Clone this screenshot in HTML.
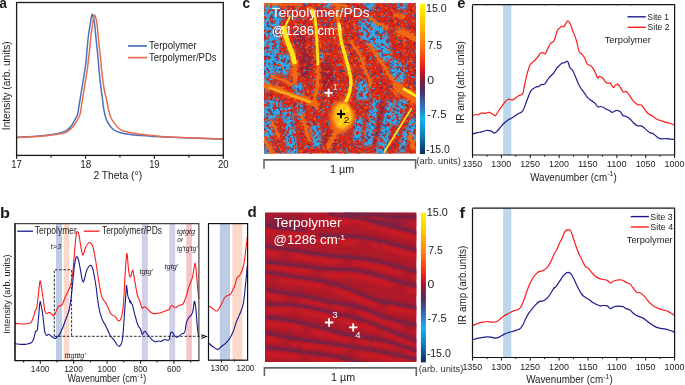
<!DOCTYPE html>
<html><head><meta charset="utf-8"><style>
html,body{margin:0;padding:0;background:#fff;}
body{width:685px;height:385px;overflow:hidden;position:relative;}
svg{position:absolute;left:0;top:0;}
svg text{font-family:'Liberation Sans',sans-serif;fill:#1a1a1a;}
svg{will-change:transform;}
</style></head><body>
<svg width="685" height="385" viewBox="0 0 685 385" xmlns="http://www.w3.org/2000/svg">
<defs>
<linearGradient id="cmap" x1="0" y1="0" x2="0" y2="1">
 <stop offset="0" stop-color="#fff500"/>
 <stop offset="0.12" stop-color="#ffc800"/>
 <stop offset="0.27" stop-color="#ff7d10"/>
 <stop offset="0.40" stop-color="#f02a18"/>
 <stop offset="0.46" stop-color="#c41228"/>
 <stop offset="0.50" stop-color="#8c1a32"/>
 <stop offset="0.58" stop-color="#4c2e62"/>
 <stop offset="0.66" stop-color="#3462aa"/>
 <stop offset="0.77" stop-color="#12b2f0"/>
 <stop offset="0.87" stop-color="#1280c0"/>
 <stop offset="1" stop-color="#0a2a5a"/>
</linearGradient>
<clipPath id="clipc"><rect x="263.9" y="3.1" width="152.1" height="150.6"/></clipPath>
<clipPath id="clipd"><rect x="265" y="212.3" width="151.6" height="149.8"/></clipPath>
<filter id="b05" x="-20%" y="-20%" width="140%" height="140%" color-interpolation-filters="sRGB"><feGaussianBlur stdDeviation="0.5"/></filter>
<filter id="b1" x="-20%" y="-20%" width="140%" height="140%" color-interpolation-filters="sRGB"><feGaussianBlur stdDeviation="0.9"/></filter>
<filter id="b2" x="-20%" y="-20%" width="140%" height="140%" color-interpolation-filters="sRGB"><feGaussianBlur stdDeviation="1.6"/></filter>
<filter id="b3" x="-30%" y="-30%" width="160%" height="160%" color-interpolation-filters="sRGB"><feGaussianBlur stdDeviation="2.6"/></filter>
<filter id="gSlate" x="0" y="0" width="100%" height="100%" color-interpolation-filters="sRGB">
 <feTurbulence type="fractalNoise" baseFrequency="0.3" numOctaves="2" seed="7" result="n"/>
 <feColorMatrix in="n" type="matrix" values="0 0 0 0 0.290  0 0 0 0 0.290  0 0 0 0 0.502  10 0 0 0 -6.2" result="c"/>
 <feGaussianBlur in="c" stdDeviation="0.5" result="cb"/>
 <feComposite in="cb" in2="SourceGraphic" operator="in"/>
</filter><filter id="gOrange" x="0" y="0" width="100%" height="100%" color-interpolation-filters="sRGB">
 <feTurbulence type="fractalNoise" baseFrequency="0.3" numOctaves="2" seed="11" result="n"/>
 <feColorMatrix in="n" type="matrix" values="0 0 0 0 0.941  0 0 0 0 0.353  0 0 0 0 0.094  0 10 0 0 -6.0" result="c"/>
 <feGaussianBlur in="c" stdDeviation="0.5" result="cb"/>
 <feComposite in="cb" in2="SourceGraphic" operator="in"/>
</filter><filter id="gDarkR" x="0" y="0" width="100%" height="100%" color-interpolation-filters="sRGB">
 <feTurbulence type="fractalNoise" baseFrequency="0.3" numOctaves="2" seed="13" result="n"/>
 <feColorMatrix in="n" type="matrix" values="0 0 0 0 0.627  0 0 0 0 0.102  0 0 0 0 0.188  0 0 10 0 -6.2" result="c"/>
 <feGaussianBlur in="c" stdDeviation="0.5" result="cb"/>
 <feComposite in="cb" in2="SourceGraphic" operator="in"/>
</filter><filter id="gBlueS" x="0" y="0" width="100%" height="100%" color-interpolation-filters="sRGB">
 <feTurbulence type="fractalNoise" baseFrequency="0.33" numOctaves="2" seed="31" result="n"/>
 <feColorMatrix in="n" type="matrix" values="0 0 0 0 0.165  0 0 0 0 0.604  0 0 0 0 0.847  0 0 10 0 -6.5" result="c"/>
 <feGaussianBlur in="c" stdDeviation="0.5" result="cb"/>
 <feComposite in="cb" in2="SourceGraphic" operator="in"/>
</filter><filter id="gDarkB" x="0" y="0" width="100%" height="100%" color-interpolation-filters="sRGB">
 <feTurbulence type="fractalNoise" baseFrequency="0.32" numOctaves="2" seed="41" result="n"/>
 <feColorMatrix in="n" type="matrix" values="0 0 0 0 0.204  0 0 0 0 0.333  0 0 0 0 0.604  10 0 0 0 -6.1" result="c"/>
 <feGaussianBlur in="c" stdDeviation="0.5" result="cb"/>
 <feComposite in="cb" in2="SourceGraphic" operator="in"/>
</filter><filter id="mBlue" x="0" y="0" width="100%" height="100%" color-interpolation-filters="sRGB">
 <feTurbulence type="fractalNoise" baseFrequency="0.3" numOctaves="2" seed="21" result="n"/>
 <feColorMatrix in="n" type="matrix" values="0 0 0 0 0  0 0 0 0 0  0 0 0 0 0  10 0 0 0 -4.0" result="m0"/>
 <feGaussianBlur in="m0" stdDeviation="0.4" result="m"/>
 <feComposite in="SourceGraphic" in2="m" operator="in"/>
</filter><filter id="mOr" x="0" y="0" width="100%" height="100%" color-interpolation-filters="sRGB">
 <feTurbulence type="fractalNoise" baseFrequency="0.3" numOctaves="2" seed="51" result="n"/>
 <feColorMatrix in="n" type="matrix" values="0 0 0 0 0  0 0 0 0 0  0 0 0 0 0  0 10 0 0 -4.6" result="m0"/>
 <feGaussianBlur in="m0" stdDeviation="0.4" result="m"/>
 <feComposite in="SourceGraphic" in2="m" operator="in"/>
</filter></defs>
<rect x="56.0" y="223.7" width="6.0" height="136.8" fill="#bccce4"/>
<rect x="63.7" y="223.7" width="5.5" height="136.8" fill="#fcd8ca"/>
<rect x="141.9" y="223.7" width="5.9" height="136.8" fill="#cfcfe8"/>
<rect x="169.3" y="223.7" width="5.9" height="136.8" fill="#cfcfe8"/>
<rect x="186.3" y="223.7" width="5.6" height="136.8" fill="#f4c3cb"/>
<rect x="219.9" y="223.7" width="10.2" height="136.8" fill="#bccce4"/>
<rect x="232.3" y="223.7" width="10.0" height="136.8" fill="#fcd8ca"/>
<text x="0.13" y="217.70" textLength="9.94" lengthAdjust="spacingAndGlyphs" style="font-size:14.00px;font-weight:bold">b</text>
<text x="247.58" y="217.20" textLength="9.21" lengthAdjust="spacingAndGlyphs" style="font-size:14.50px;font-weight:bold">d</text>
<path d="M54.3 336.3 V269.8 H71.6 V336.3" fill="none" stroke="#111" stroke-width="0.9" stroke-dasharray="2.6 1.6"/>
<line x1="54.3" y1="336.3" x2="203" y2="336.3" stroke="#111" stroke-width="0.9" stroke-dasharray="2.6 1.6"/>
<path d="M201.3 334.8 L206.3 336.6 L201.3 338.5" fill="none" stroke="#111" stroke-width="1.1"/>
<path d="M14.60 323.30 C15.33 323.37 17.28 323.58 19.00 323.70 C20.72 323.82 23.40 324.03 24.90 324.00 C26.40 323.97 26.93 323.80 28.00 323.50 C29.07 323.20 30.37 323.38 31.30 322.20 C32.23 321.02 32.90 318.43 33.60 316.40 C34.30 314.37 34.98 311.40 35.50 310.00 C36.02 308.60 36.23 310.50 36.70 308.00 C37.17 305.50 37.75 299.50 38.30 295.00 C38.85 290.50 39.47 282.17 40.00 281.00 C40.53 279.83 40.98 285.17 41.50 288.00 C42.02 290.83 42.53 294.17 43.10 298.00 C43.67 301.83 44.30 308.40 44.90 311.00 C45.50 313.60 46.03 313.37 46.70 313.60 C47.37 313.83 48.10 312.33 48.90 312.40 C49.70 312.47 50.65 313.43 51.50 314.00 C52.35 314.57 53.20 316.30 54.00 315.80 C54.80 315.30 55.55 312.57 56.30 311.00 C57.05 309.43 57.62 307.32 58.50 306.40 C59.38 305.48 60.80 306.23 61.60 305.50 C62.40 304.77 62.65 303.50 63.30 302.00 C63.95 300.50 64.72 298.28 65.50 296.50 C66.28 294.72 67.13 293.22 68.00 291.30 C68.87 289.38 69.93 287.88 70.70 285.00 C71.47 282.12 72.07 278.07 72.60 274.00 C73.13 269.93 73.48 265.40 73.90 260.60 C74.32 255.80 74.68 249.68 75.10 245.20 C75.52 240.72 76.02 236.00 76.40 233.70 C76.78 231.40 76.98 231.23 77.40 231.40 C77.82 231.57 78.42 232.72 78.90 234.70 C79.38 236.68 79.82 240.42 80.30 243.30 C80.78 246.18 81.32 250.08 81.80 252.00 C82.28 253.92 82.58 255.52 83.20 254.80 C83.82 254.08 84.70 249.58 85.50 247.70 C86.30 245.82 87.25 244.35 88.00 243.50 C88.75 242.65 89.22 242.18 90.00 242.60 C90.78 243.02 91.78 243.18 92.70 246.00 C93.62 248.82 94.58 254.22 95.50 259.50 C96.42 264.78 97.30 272.12 98.20 277.70 C99.10 283.28 100.15 289.52 100.90 293.00 C101.65 296.48 102.02 297.13 102.70 298.60 C103.38 300.07 104.38 300.90 105.00 301.80 C105.62 302.70 105.80 302.80 106.40 304.00 C107.00 305.20 107.77 307.25 108.60 309.00 C109.43 310.75 110.33 313.27 111.40 314.50 C112.47 315.73 113.80 315.33 115.00 316.40 C116.20 317.47 117.53 320.75 118.60 320.90 C119.67 321.05 120.63 319.72 121.40 317.30 C122.17 314.88 122.73 310.62 123.20 306.40 C123.67 302.18 123.90 297.00 124.20 292.00 C124.50 287.00 124.57 282.80 125.00 276.40 C125.43 270.00 126.25 255.12 126.80 253.60 C127.35 252.08 127.85 263.65 128.30 267.30 C128.75 270.95 129.08 273.98 129.50 275.50 C129.92 277.02 130.28 277.32 130.80 276.40 C131.32 275.48 132.07 270.00 132.60 270.00 C133.13 270.00 133.45 273.52 134.00 276.40 C134.55 279.28 135.28 283.97 135.90 287.30 C136.52 290.63 137.10 294.28 137.70 296.40 C138.30 298.52 139.03 298.80 139.50 300.00 C139.97 301.20 140.03 302.23 140.50 303.60 C140.97 304.97 141.62 307.68 142.30 308.20 C142.98 308.72 143.55 306.40 144.60 306.70 C145.65 307.00 147.70 309.15 148.60 310.00 C149.50 310.85 149.17 311.20 150.00 311.80 C150.83 312.40 152.38 313.35 153.60 313.60 C154.82 313.85 156.08 313.45 157.30 313.30 C158.52 313.15 159.85 313.00 160.90 312.70 C161.95 312.40 162.68 311.88 163.60 311.50 C164.52 311.12 165.48 310.72 166.40 310.40 C167.32 310.08 168.45 310.17 169.10 309.60 C169.75 309.03 169.90 307.68 170.30 307.00 C170.70 306.32 170.95 305.60 171.50 305.50 C172.05 305.40 172.93 306.02 173.60 306.40 C174.27 306.78 174.60 307.95 175.50 307.80 C176.40 307.65 177.80 306.10 179.00 305.50 C180.20 304.90 181.78 304.95 182.70 304.20 C183.62 303.45 183.88 302.45 184.50 301.00 C185.12 299.55 185.78 297.50 186.40 295.50 C187.02 293.50 187.53 291.13 188.20 289.00 C188.87 286.87 189.73 284.50 190.40 282.70 C191.07 280.90 191.67 280.15 192.20 278.20 C192.73 276.25 193.12 273.48 193.60 271.00 C194.08 268.52 194.63 263.02 195.10 263.30 C195.57 263.58 195.98 268.70 196.40 272.70 C196.82 276.70 197.18 282.92 197.60 287.30 C198.02 291.68 198.68 297.05 198.90 299.00" fill="none" stroke="#ff1a1a" stroke-width="1.1" stroke-linejoin="round"/>
<path d="M14.60 343.60 C15.33 343.70 17.28 344.07 19.00 344.20 C20.72 344.33 23.40 344.47 24.90 344.40 C26.40 344.33 26.93 344.08 28.00 343.80 C29.07 343.52 30.47 343.25 31.30 342.70 C32.13 342.15 32.55 341.28 33.00 340.50 C33.45 339.72 33.58 339.50 34.00 338.00 C34.42 336.50 34.95 332.83 35.50 331.50 C36.05 330.17 36.80 332.25 37.30 330.00 C37.80 327.75 38.05 322.63 38.50 318.00 C38.95 313.37 39.53 304.20 40.00 302.20 C40.47 300.20 40.85 303.95 41.30 306.00 C41.75 308.05 42.25 311.17 42.70 314.50 C43.15 317.83 43.63 322.97 44.00 326.00 C44.37 329.03 44.45 331.12 44.90 332.70 C45.35 334.28 46.10 335.25 46.70 335.50 C47.30 335.75 47.78 334.12 48.50 334.20 C49.22 334.28 49.93 335.28 51.00 336.00 C52.07 336.72 53.90 338.33 54.90 338.50 C55.90 338.67 56.23 337.67 57.00 337.00 C57.77 336.33 58.55 336.05 59.50 334.50 C60.45 332.95 61.55 330.50 62.70 327.70 C63.85 324.90 65.35 320.57 66.40 317.70 C67.45 314.83 68.25 313.53 69.00 310.50 C69.75 307.47 70.30 303.97 70.90 299.50 C71.50 295.03 72.10 288.58 72.60 283.70 C73.10 278.82 73.42 274.20 73.90 270.20 C74.38 266.20 74.98 261.93 75.50 259.70 C76.02 257.47 76.43 256.48 77.00 256.80 C77.57 257.12 78.27 259.03 78.90 261.60 C79.53 264.17 80.25 269.17 80.80 272.20 C81.35 275.23 81.75 278.20 82.20 279.80 C82.65 281.40 83.03 282.27 83.50 281.80 C83.97 281.33 84.52 278.73 85.00 277.00 C85.48 275.27 85.82 273.07 86.40 271.40 C86.98 269.73 87.75 268.00 88.50 267.00 C89.25 266.00 90.23 265.23 90.90 265.40 C91.57 265.57 92.05 266.85 92.50 268.00 C92.95 269.15 93.18 270.30 93.60 272.30 C94.02 274.30 94.53 277.22 95.00 280.00 C95.47 282.78 96.02 286.17 96.40 289.00 C96.78 291.83 96.85 293.73 97.30 297.00 C97.75 300.27 98.40 305.15 99.10 308.60 C99.80 312.05 100.75 315.42 101.50 317.70 C102.25 319.98 103.02 321.17 103.60 322.30 C104.18 323.43 104.32 323.22 105.00 324.50 C105.68 325.78 106.78 328.08 107.70 330.00 C108.62 331.92 109.45 334.33 110.50 336.00 C111.55 337.67 112.95 338.58 114.00 340.00 C115.05 341.42 115.93 343.43 116.80 344.50 C117.67 345.57 118.47 346.48 119.20 346.40 C119.93 346.32 120.68 345.07 121.20 344.00 C121.72 342.93 121.97 342.03 122.30 340.00 C122.63 337.97 122.82 336.50 123.20 331.80 C123.58 327.10 124.15 318.17 124.60 311.80 C125.05 305.43 125.58 297.98 125.90 293.60 C126.22 289.22 126.28 286.10 126.50 285.50 C126.72 284.90 127.00 288.42 127.20 290.00 C127.40 291.58 127.48 293.67 127.70 295.00 C127.92 296.33 128.23 297.25 128.50 298.00 C128.77 298.75 129.05 298.72 129.30 299.50 C129.55 300.28 129.78 302.45 130.00 302.70 C130.22 302.95 130.37 300.85 130.60 301.00 C130.83 301.15 131.12 303.02 131.40 303.60 C131.68 304.18 132.00 303.77 132.30 304.50 C132.60 305.23 132.90 306.78 133.20 308.00 C133.50 309.22 133.72 310.30 134.10 311.80 C134.48 313.30 135.05 315.33 135.50 317.00 C135.95 318.67 136.28 320.23 136.80 321.80 C137.32 323.37 137.98 325.20 138.60 326.40 C139.22 327.60 139.88 327.65 140.50 329.00 C141.12 330.35 141.80 333.92 142.30 334.50 C142.80 335.08 143.05 333.03 143.50 332.50 C143.95 331.97 144.50 331.22 145.00 331.30 C145.50 331.38 145.92 332.27 146.50 333.00 C147.08 333.73 147.92 334.95 148.50 335.70 C149.08 336.45 149.42 336.85 150.00 337.50 C150.58 338.15 151.15 338.88 152.00 339.60 C152.85 340.32 154.00 341.57 155.10 341.80 C156.20 342.03 157.52 341.07 158.60 341.00 C159.68 340.93 160.87 341.52 161.60 341.40 C162.33 341.28 162.55 340.62 163.00 340.30 C163.45 339.98 163.65 339.53 164.30 339.50 C164.95 339.47 166.10 340.05 166.90 340.10 C167.70 340.15 168.55 340.65 169.10 339.80 C169.65 338.95 169.92 336.20 170.20 335.00 C170.48 333.80 170.40 333.02 170.80 332.60 C171.20 332.18 172.08 332.13 172.60 332.50 C173.12 332.87 173.25 334.02 173.90 334.80 C174.55 335.58 175.62 336.98 176.50 337.20 C177.38 337.42 178.32 336.65 179.20 336.10 C180.08 335.55 181.00 334.40 181.80 333.90 C182.60 333.40 183.42 333.75 184.00 333.10 C184.58 332.45 184.90 331.73 185.30 330.00 C185.70 328.27 185.78 324.82 186.40 322.70 C187.02 320.58 188.25 318.50 189.00 317.30 C189.75 316.10 190.28 316.42 190.90 315.50 C191.52 314.58 192.22 313.55 192.70 311.80 C193.18 310.05 193.50 306.75 193.80 305.00 C194.10 303.25 194.17 300.77 194.50 301.30 C194.83 301.83 195.33 304.02 195.80 308.20 C196.27 312.38 196.82 321.55 197.30 326.40 C197.78 331.25 198.47 335.48 198.70 337.30" fill="none" stroke="#18188c" stroke-width="1.1" stroke-linejoin="round"/>
<path d="M14.6 223.7 H198.9 V360.5" fill="none" stroke="#444" stroke-width="1.2"/>
<path d="M14.9 223.2 V360.5 H199.5" fill="none" stroke="#111" stroke-width="1.25"/>
<line x1="15.2" y1="223.5" x2="15.2" y2="360.5" stroke="#111" stroke-width="0.8"/>
<line x1="23.60" y1="360.5" x2="23.60" y2="362.50" stroke="#222" stroke-width="1.1"/>
<line x1="40.30" y1="360.5" x2="40.30" y2="363.70" stroke="#222" stroke-width="1.1"/>
<line x1="57.00" y1="360.5" x2="57.00" y2="362.50" stroke="#222" stroke-width="1.1"/>
<line x1="73.70" y1="360.5" x2="73.70" y2="363.70" stroke="#222" stroke-width="1.1"/>
<line x1="90.40" y1="360.5" x2="90.40" y2="362.50" stroke="#222" stroke-width="1.1"/>
<line x1="107.10" y1="360.5" x2="107.10" y2="363.70" stroke="#222" stroke-width="1.1"/>
<line x1="123.80" y1="360.5" x2="123.80" y2="362.50" stroke="#222" stroke-width="1.1"/>
<line x1="140.50" y1="360.5" x2="140.50" y2="363.70" stroke="#222" stroke-width="1.1"/>
<line x1="157.20" y1="360.5" x2="157.20" y2="362.50" stroke="#222" stroke-width="1.1"/>
<line x1="173.90" y1="360.5" x2="173.90" y2="363.70" stroke="#222" stroke-width="1.1"/>
<line x1="190.60" y1="360.5" x2="190.60" y2="362.50" stroke="#222" stroke-width="1.1"/>
<text x="30.81" y="371.80" textLength="18.67" lengthAdjust="spacingAndGlyphs" style="font-size:9.60px">1400</text>
<text x="64.21" y="371.80" textLength="18.67" lengthAdjust="spacingAndGlyphs" style="font-size:9.60px">1200</text>
<text x="97.61" y="371.80" textLength="18.67" lengthAdjust="spacingAndGlyphs" style="font-size:9.60px">1000</text>
<text x="133.54" y="371.80" textLength="13.89" lengthAdjust="spacingAndGlyphs" style="font-size:9.60px">800</text>
<text x="166.88" y="371.80" textLength="13.95" lengthAdjust="spacingAndGlyphs" style="font-size:9.60px">600</text>
<text x="67.56" y="381.80" textLength="69.62" lengthAdjust="spacingAndGlyphs" style="font-size:10.00px">Wavenumber (cm</text>
<text x="137.62" y="377.60" textLength="5.59" lengthAdjust="spacingAndGlyphs" style="font-size:6.20px">-1</text>
<text x="143.35" y="381.80" textLength="3.01" lengthAdjust="spacingAndGlyphs" style="font-size:10.00px">)</text>
<text transform="translate(9.80 0) rotate(-90)" x="-333.83" y="0" textLength="79.40" lengthAdjust="spacingAndGlyphs" style="font-size:9.60px">Intensity (arb. units)</text>
<line x1="17.2" y1="231.2" x2="33" y2="231.2" stroke="#18188c" stroke-width="1.3"/>
<text x="34.71" y="234.00" textLength="42.13" lengthAdjust="spacingAndGlyphs" style="font-size:10.20px">Terpolymer</text>
<line x1="83.8" y1="231.2" x2="99.4" y2="231.2" stroke="#ff1a1a" stroke-width="1.3"/>
<text x="101.91" y="234.00" textLength="60.19" lengthAdjust="spacingAndGlyphs" style="font-size:10.20px">Terpolymer/PDs</text>
<text x="50.46" y="248.60" textLength="10.71" lengthAdjust="spacingAndGlyphs" style="font-size:7.90px;font-style:italic">t&gt;3</text>
<text x="64.48" y="357.90" textLength="21.22" lengthAdjust="spacingAndGlyphs" style="font-size:7.60px;font-style:italic">tttgtttg'</text>
<text x="139.47" y="273.80" textLength="13.52" lengthAdjust="spacingAndGlyphs" style="font-size:7.60px;font-style:italic">tgtg'</text>
<text x="164.57" y="268.60" textLength="13.63" lengthAdjust="spacingAndGlyphs" style="font-size:7.60px;font-style:italic">tgtg'</text>
<text x="176.97" y="233.60" textLength="18.09" lengthAdjust="spacingAndGlyphs" style="font-size:7.60px;font-style:italic">tgtgtg</text>
<text x="177.29" y="241.60" textLength="5.79" lengthAdjust="spacingAndGlyphs" style="font-size:7.60px;font-style:italic">or</text>
<text x="177.00" y="250.60" textLength="20.51" lengthAdjust="spacingAndGlyphs" style="font-size:7.60px;font-style:italic">tg'tg'tg'</text>
<path d="M208.70 305.80 C209.30 306.22 210.90 307.43 212.30 308.30 C213.70 309.17 215.72 311.42 217.10 311.00 C218.48 310.58 219.32 308.05 220.60 305.80 C221.88 303.55 223.58 299.23 224.80 297.50 C226.02 295.77 226.97 295.92 227.90 295.40 C228.83 294.88 229.53 295.43 230.40 294.40 C231.27 293.37 232.32 290.77 233.10 289.20 C233.88 287.63 234.48 286.83 235.10 285.00 C235.72 283.17 236.07 279.78 236.80 278.20 C237.53 276.62 238.58 276.87 239.50 275.50 C240.42 274.13 241.53 272.13 242.30 270.00 C243.07 267.87 243.50 266.18 244.10 262.70 C244.70 259.22 245.35 253.48 245.90 249.10 C246.45 244.72 247.15 238.52 247.40 236.40" fill="none" stroke="#ff1a1a" stroke-width="1.1"/>
<path d="M208.70 343.20 C209.47 343.83 211.77 345.97 213.30 347.00 C214.83 348.03 216.52 349.52 217.90 349.40 C219.28 349.28 220.28 347.33 221.60 346.30 C222.92 345.27 224.40 344.58 225.80 343.20 C227.20 341.82 228.78 339.90 230.00 338.00 C231.22 336.10 232.07 334.40 233.10 331.80 C234.13 329.20 235.17 325.18 236.20 322.40 C237.23 319.62 238.30 317.52 239.30 315.10 C240.30 312.68 241.43 310.42 242.20 307.90 C242.97 305.38 243.35 303.82 243.90 300.00 C244.45 296.18 245.05 289.33 245.50 285.00 C245.95 280.67 246.32 277.17 246.60 274.00 C246.88 270.83 247.10 267.33 247.20 266.00" fill="none" stroke="#18188c" stroke-width="1.1"/>
<rect x="208.5" y="223.6" width="39.1" height="136.6" fill="none" stroke="#111" stroke-width="1.2"/>
<line x1="221.50" y1="359.6" x2="221.50" y2="362.60" stroke="#222" stroke-width="1.1"/>
<line x1="234.55" y1="359.6" x2="234.55" y2="361.40" stroke="#222" stroke-width="1.1"/>
<text x="210.38" y="371.10" textLength="18.25" lengthAdjust="spacingAndGlyphs" style="font-size:9.60px">1300</text>
<text x="236.49" y="371.10" textLength="17.82" lengthAdjust="spacingAndGlyphs" style="font-size:9.60px">1200</text>
<text x="-0.38" y="7.70" textLength="7.30" lengthAdjust="spacingAndGlyphs" style="font-size:14.50px;font-weight:bold">a</text>
<path d="M16.60 137.30 C18.17 137.22 22.70 136.98 26.00 136.80 C29.30 136.62 32.97 136.45 36.40 136.20 C39.83 135.95 43.18 135.70 46.60 135.30 C50.02 134.90 54.52 134.25 56.90 133.80 C59.28 133.35 59.20 133.22 60.90 132.60 C62.60 131.98 65.22 131.42 67.10 130.10 C68.98 128.78 70.85 126.53 72.20 124.70 C73.55 122.87 74.35 120.72 75.20 119.10 C76.05 117.48 76.75 116.68 77.30 115.00 C77.85 113.32 77.78 113.17 78.50 109.00 C79.22 104.83 80.53 96.50 81.60 90.00 C82.67 83.50 84.13 75.00 84.90 70.00 C85.67 65.00 85.83 63.50 86.20 60.00 C86.57 56.50 86.73 53.00 87.10 49.00 C87.47 45.00 87.85 40.33 88.40 36.00 C88.95 31.67 89.87 26.33 90.40 23.00 C90.93 19.67 91.28 17.47 91.60 16.00 C91.92 14.53 92.05 14.20 92.30 14.20 C92.55 14.20 92.73 14.53 93.10 16.00 C93.47 17.47 94.05 19.67 94.50 23.00 C94.95 26.33 95.37 31.67 95.80 36.00 C96.23 40.33 96.70 45.00 97.10 49.00 C97.50 53.00 97.88 56.50 98.20 60.00 C98.52 63.50 98.50 65.00 99.00 70.00 C99.50 75.00 100.60 85.00 101.20 90.00 C101.80 95.00 102.17 96.78 102.60 100.00 C103.03 103.22 103.22 106.18 103.80 109.30 C104.38 112.42 105.23 116.17 106.10 118.70 C106.97 121.23 107.73 122.65 109.00 124.50 C110.27 126.35 111.75 128.43 113.70 129.80 C115.65 131.17 117.98 131.92 120.70 132.70 C123.42 133.48 126.50 134.02 130.00 134.50 C133.50 134.98 137.80 135.28 141.70 135.60 C145.60 135.92 149.52 136.15 153.40 136.40 C157.28 136.65 158.90 136.83 165.00 137.10 C171.10 137.37 180.33 137.63 190.00 138.00 C199.67 138.37 217.50 139.08 223.00 139.30" fill="none" stroke="#4a72bc" stroke-width="1.5" stroke-linejoin="round"/>
<path d="M16.60 137.70 C18.17 137.60 22.70 137.30 26.00 137.10 C29.30 136.90 32.97 136.73 36.40 136.50 C39.83 136.27 43.18 136.08 46.60 135.70 C50.02 135.32 53.83 134.67 56.90 134.20 C59.97 133.73 62.80 133.72 65.00 132.90 C67.20 132.08 68.57 130.58 70.10 129.30 C71.63 128.02 73.00 126.73 74.20 125.20 C75.40 123.67 76.37 121.80 77.30 120.10 C78.23 118.40 79.18 116.85 79.80 115.00 C80.42 113.15 80.30 113.17 81.00 109.00 C81.70 104.83 82.97 96.50 84.00 90.00 C85.03 83.50 86.47 75.00 87.20 70.00 C87.93 65.00 87.98 63.50 88.40 60.00 C88.82 56.50 89.27 53.00 89.70 49.00 C90.13 45.00 90.50 40.33 91.00 36.00 C91.50 31.67 92.23 26.25 92.70 23.00 C93.17 19.75 93.50 17.85 93.80 16.50 C94.10 15.15 94.25 14.90 94.50 14.90 C94.75 14.90 94.90 15.15 95.30 16.50 C95.70 17.85 96.42 19.75 96.90 23.00 C97.38 26.25 97.77 31.67 98.20 36.00 C98.63 40.33 99.07 45.00 99.50 49.00 C99.93 53.00 100.45 56.50 100.80 60.00 C101.15 63.50 101.02 65.00 101.60 70.00 C102.18 75.00 103.45 85.00 104.30 90.00 C105.15 95.00 106.02 96.78 106.70 100.00 C107.38 103.22 107.72 106.38 108.40 109.30 C109.08 112.22 109.92 115.35 110.80 117.50 C111.68 119.65 112.43 120.45 113.70 122.20 C114.97 123.95 116.65 126.48 118.40 128.00 C120.15 129.52 121.87 130.48 124.20 131.30 C126.53 132.12 129.48 132.37 132.40 132.90 C135.32 133.43 138.20 134.05 141.70 134.50 C145.20 134.95 149.52 135.22 153.40 135.60 C157.28 135.98 158.90 136.43 165.00 136.80 C171.10 137.17 180.33 137.43 190.00 137.80 C199.67 138.17 217.50 138.80 223.00 139.00" fill="none" stroke="#e96a4c" stroke-width="1.5" stroke-linejoin="round"/>
<rect x="16.6" y="2.5" width="206.7" height="152.9" fill="none" stroke="#1a1a1a" stroke-width="1.3"/>
<line x1="16.60" y1="155.4" x2="16.60" y2="158.70" stroke="#1a1a1a" stroke-width="1.2"/>
<line x1="51.05" y1="155.4" x2="51.05" y2="157.50" stroke="#1a1a1a" stroke-width="1.2"/>
<line x1="85.50" y1="155.4" x2="85.50" y2="158.70" stroke="#1a1a1a" stroke-width="1.2"/>
<line x1="119.95" y1="155.4" x2="119.95" y2="157.50" stroke="#1a1a1a" stroke-width="1.2"/>
<line x1="154.40" y1="155.4" x2="154.40" y2="158.70" stroke="#1a1a1a" stroke-width="1.2"/>
<line x1="188.85" y1="155.4" x2="188.85" y2="157.50" stroke="#1a1a1a" stroke-width="1.2"/>
<line x1="223.30" y1="155.4" x2="223.30" y2="158.70" stroke="#1a1a1a" stroke-width="1.2"/>
<text x="11.27" y="168.00" textLength="10.61" lengthAdjust="spacingAndGlyphs" style="font-size:10.00px">17</text>
<text x="80.24" y="168.00" textLength="11.09" lengthAdjust="spacingAndGlyphs" style="font-size:10.00px">18</text>
<text x="149.19" y="168.00" textLength="10.35" lengthAdjust="spacingAndGlyphs" style="font-size:10.00px">19</text>
<text x="217.92" y="168.00" textLength="10.66" lengthAdjust="spacingAndGlyphs" style="font-size:10.00px">20</text>
<text x="93.38" y="179.00" textLength="48.76" lengthAdjust="spacingAndGlyphs" style="font-size:10.70px">2 Theta (°)</text>
<text transform="translate(9.70 0) rotate(-90)" x="-130.13" y="0" textLength="88.76" lengthAdjust="spacingAndGlyphs" style="font-size:10.50px">Intensity (arb. units)</text>
<line x1="128" y1="46" x2="147" y2="46" stroke="#4a72bc" stroke-width="1.7"/>
<line x1="128" y1="57.6" x2="147" y2="57.6" stroke="#e96a4c" stroke-width="1.7"/>
<text x="148.99" y="49.00" textLength="47.67" lengthAdjust="spacingAndGlyphs" style="font-size:10.20px">Terpolymer</text>
<text x="148.99" y="60.80" textLength="67.55" lengthAdjust="spacingAndGlyphs" style="font-size:10.20px">Terpolymer/PDs</text>
<g clip-path="url(#clipc)">
<rect x="263.9" y="3.1" width="152.1" height="150.6" fill="#d82818"/>
<rect x="263.9" y="3.1" width="152.1" height="150.6" fill="#000" filter="url(#gOrange)"/>
<rect x="263.9" y="3.1" width="152.1" height="150.6" fill="#000" filter="url(#gDarkR)"/>
<rect x="263.9" y="3.1" width="152.1" height="150.6" fill="#000" filter="url(#gSlate)"/>
<rect x="263.9" y="3.1" width="152.1" height="150.6" fill="#000" filter="url(#gBlueS)"/>
<g filter="url(#mBlue)"><g filter="url(#b2)" fill="#8a1c3a" opacity="0.75">
<ellipse cx="305" cy="62" rx="7" ry="16"/>
<ellipse cx="326" cy="75" rx="7" ry="14"/>
<ellipse cx="300" cy="40" rx="5" ry="8"/>
<ellipse cx="380" cy="120" rx="8" ry="20"/>
<ellipse cx="395" cy="70" rx="6" ry="10"/>
<ellipse cx="330" cy="140" rx="8" ry="8"/>
<ellipse cx="275" cy="60" rx="6" ry="10"/>
</g></g>
<g filter="url(#mBlue)"><g filter="url(#b1)">
<path d="M263.00 2.00 L278.00 2.00 L281.00 18.00 L280.00 45.00 L276.00 70.00 L271.00 88.00 L263.00 92.00 Z" fill="#2eaaea"/>
<path d="M270.00 54.00 L289.00 54.00 L291.00 66.00 L287.00 76.00 L272.00 72.00 Z" fill="#2eaaea"/>
<path d="M264.00 100.00 L281.00 100.00 L282.00 116.00 L268.00 121.00 L263.00 119.00 Z" fill="#2eaaea"/>
<path d="M358.00 20.00 L372.00 18.00 L386.00 28.00 L390.00 44.00 L392.00 60.00 L380.00 62.00 L372.00 50.00 L360.00 38.00 Z" fill="#2eaaea"/>
<path d="M292.00 84.00 L302.00 83.00 L304.00 95.00 L294.00 96.00 Z" fill="#2eaaea"/>
<path d="M390.00 58.00 L400.00 60.00 L405.00 72.00 L404.00 84.00 L396.00 84.00 L390.00 72.00 Z" fill="#2eaaea"/>
<path d="M356.00 80.00 L366.00 80.00 L371.00 96.00 L368.00 100.00 L357.00 100.00 Z" fill="#2eaaea"/>
<path d="M318.00 53.00 L324.00 53.00 L324.00 60.00 L318.00 60.00 Z" fill="#2eaaea"/>
<path d="M371.00 99.00 L380.00 99.00 L372.00 146.00 L363.00 146.00 Z" fill="#2eaaea"/>
<path d="M387.00 100.00 L396.00 100.00 L386.00 155.00 L375.00 155.00 Z" fill="#2eaaea"/>
<path d="M399.00 99.00 L408.00 99.00 L399.00 125.00 L390.00 125.00 Z" fill="#2eaaea"/>
<path d="M282.00 108.00 L292.00 106.00 L298.00 154.00 L287.00 154.00 Z" fill="#2eaaea"/>
<path d="M296.00 104.00 L302.00 104.00 L304.00 118.00 L298.00 120.00 Z" fill="#2eaaea"/>
<path d="M364.00 2.00 L376.00 2.00 L373.00 11.00 L364.00 11.00 Z" fill="#2eaaea"/>
<path d="M397.00 2.00 L408.00 2.00 L406.00 10.00 L397.00 10.00 Z" fill="#2eaaea"/>
<path d="M264.00 122.00 L274.00 120.00 L273.00 140.00 L264.00 142.00 Z" fill="#2eaaea"/>
<path d="M407.00 122.00 L416.00 116.00 L416.00 142.00 L410.00 140.00 Z" fill="#2eaaea"/>
<path d="M264.00 146.00 L272.00 144.00 L271.00 154.00 L263.00 154.00 Z" fill="#2eaaea"/>
<path d="M355.00 118.00 L363.00 116.00 L361.00 142.00 L353.00 142.00 Z" fill="#2eaaea"/>
<path d="M311.00 125.00 L319.00 123.00 L322.00 146.00 L313.00 148.00 Z" fill="#2eaaea"/>
<path d="M403.00 130.00 L410.00 128.00 L404.00 154.00 L397.00 154.00 Z" fill="#2eaaea"/>
<path d="M325.00 2.00 L333.00 2.00 L332.00 8.00 L325.00 8.00 Z" fill="#2eaaea"/>
</g></g>
<g filter="url(#gDarkB)">
<path d="M263.00 2.00 L278.00 2.00 L281.00 18.00 L280.00 45.00 L276.00 70.00 L271.00 88.00 L263.00 92.00 Z" fill="#000"/>
<path d="M270.00 54.00 L289.00 54.00 L291.00 66.00 L287.00 76.00 L272.00 72.00 Z" fill="#000"/>
<path d="M264.00 100.00 L281.00 100.00 L282.00 116.00 L268.00 121.00 L263.00 119.00 Z" fill="#000"/>
<path d="M358.00 20.00 L372.00 18.00 L386.00 28.00 L390.00 44.00 L392.00 60.00 L380.00 62.00 L372.00 50.00 L360.00 38.00 Z" fill="#000"/>
<path d="M292.00 84.00 L302.00 83.00 L304.00 95.00 L294.00 96.00 Z" fill="#000"/>
<path d="M390.00 58.00 L400.00 60.00 L405.00 72.00 L404.00 84.00 L396.00 84.00 L390.00 72.00 Z" fill="#000"/>
<path d="M356.00 80.00 L366.00 80.00 L371.00 96.00 L368.00 100.00 L357.00 100.00 Z" fill="#000"/>
<path d="M318.00 53.00 L324.00 53.00 L324.00 60.00 L318.00 60.00 Z" fill="#000"/>
<path d="M371.00 99.00 L380.00 99.00 L372.00 146.00 L363.00 146.00 Z" fill="#000"/>
<path d="M387.00 100.00 L396.00 100.00 L386.00 155.00 L375.00 155.00 Z" fill="#000"/>
<path d="M399.00 99.00 L408.00 99.00 L399.00 125.00 L390.00 125.00 Z" fill="#000"/>
<path d="M282.00 108.00 L292.00 106.00 L298.00 154.00 L287.00 154.00 Z" fill="#000"/>
<path d="M296.00 104.00 L302.00 104.00 L304.00 118.00 L298.00 120.00 Z" fill="#000"/>
<path d="M364.00 2.00 L376.00 2.00 L373.00 11.00 L364.00 11.00 Z" fill="#000"/>
<path d="M397.00 2.00 L408.00 2.00 L406.00 10.00 L397.00 10.00 Z" fill="#000"/>
<path d="M264.00 122.00 L274.00 120.00 L273.00 140.00 L264.00 142.00 Z" fill="#000"/>
<path d="M407.00 122.00 L416.00 116.00 L416.00 142.00 L410.00 140.00 Z" fill="#000"/>
<path d="M264.00 146.00 L272.00 144.00 L271.00 154.00 L263.00 154.00 Z" fill="#000"/>
<path d="M355.00 118.00 L363.00 116.00 L361.00 142.00 L353.00 142.00 Z" fill="#000"/>
<path d="M311.00 125.00 L319.00 123.00 L322.00 146.00 L313.00 148.00 Z" fill="#000"/>
<path d="M403.00 130.00 L410.00 128.00 L404.00 154.00 L397.00 154.00 Z" fill="#000"/>
<path d="M325.00 2.00 L333.00 2.00 L332.00 8.00 L325.00 8.00 Z" fill="#000"/>
</g>
<g filter="url(#mOr)"><g filter="url(#b1)" fill="none" stroke-linecap="round" stroke-linejoin="round">
<path d="M264.00 86.00 C266.33 86.50 273.33 87.50 278.00 89.00 C282.67 90.50 287.33 93.17 292.00 95.00 C296.67 96.83 302.00 98.50 306.00 100.00 C310.00 101.50 314.33 103.33 316.00 104.00" stroke="#f06a14" stroke-width="8.5"/>
<path d="M272.00 76.00 C273.67 76.67 278.83 78.67 282.00 80.00 C285.17 81.33 289.50 83.33 291.00 84.00" stroke="#f06a14" stroke-width="5.0"/>
<path d="M282.50 30.80 C283.25 32.67 285.33 38.13 287.00 42.00 C288.67 45.87 291.25 50.17 292.50 54.00 C293.75 57.83 294.08 60.50 294.50 65.00 C294.92 69.50 294.92 78.33 295.00 81.00" stroke="#f06a14" stroke-width="8.5"/>
<path d="M311.00 8.00 C311.67 9.67 314.08 13.50 315.00 18.00 C315.92 22.50 316.08 29.00 316.50 35.00 C316.92 41.00 317.25 48.17 317.50 54.00 C317.75 59.83 318.08 64.17 318.00 70.00 C317.92 75.83 317.67 84.00 317.00 89.00 C316.33 94.00 314.50 98.17 314.00 100.00" stroke="#f06a14" stroke-width="6.5"/>
<path d="M336.50 2.00 C336.75 5.00 337.25 13.67 338.00 20.00 C338.75 26.33 339.83 34.17 341.00 40.00 C342.17 45.83 343.67 50.00 345.00 55.00 C346.33 60.00 348.00 65.50 349.00 70.00 C350.00 74.50 351.00 78.00 351.00 82.00 C351.00 86.00 350.00 90.33 349.00 94.00 C348.00 97.67 345.67 102.33 345.00 104.00" stroke="#f06a14" stroke-width="7.0"/>
<path d="M351.20 42.50 C352.60 44.58 357.17 50.15 359.60 55.00 C362.03 59.85 364.23 67.80 365.80 71.60 C367.37 75.40 368.30 75.40 369.00 77.80 C369.70 80.20 369.83 84.63 370.00 86.00" stroke="#f06a14" stroke-width="5.5"/>
<path d="M370.00 44.60 C371.03 46.33 373.78 51.20 376.20 55.00 C378.62 58.80 382.08 63.60 384.50 67.40 C386.92 71.20 388.28 74.87 390.70 77.80 C393.12 80.73 397.62 83.80 399.00 85.00" stroke="#f06a14" stroke-width="5.5"/>
<path d="M370.60 19.00 C373.25 20.50 383.85 26.50 386.50 28.00" stroke="#f06a14" stroke-width="4.5"/>
<path d="M400.00 32.00 C401.67 32.67 407.17 34.67 410.00 36.00 C412.83 37.33 415.83 39.33 417.00 40.00" stroke="#f06a14" stroke-width="10.5"/>
<path d="M395.00 15.00 C396.50 15.33 402.50 16.67 404.00 17.00" stroke="#f06a14" stroke-width="5.5"/>
<path d="M272.00 122.00 C272.67 123.33 274.83 127.50 276.00 130.00 C277.17 132.50 278.50 135.83 279.00 137.00" stroke="#f06a14" stroke-width="5.5"/>
<path d="M302.00 116.00 C302.67 118.00 304.83 124.00 306.00 128.00 C307.17 132.00 308.50 138.00 309.00 140.00" stroke="#f06a14" stroke-width="6.5"/>
<path d="M264.00 140.00 C265.00 141.33 268.67 145.67 270.00 148.00 C271.33 150.33 271.67 153.00 272.00 154.00" stroke="#f06a14" stroke-width="6.5"/>
<path d="M338.00 128.00 C337.17 129.67 334.67 134.67 333.00 138.00 C331.33 141.33 328.83 146.33 328.00 148.00" stroke="#f06a14" stroke-width="7.5"/>
<path d="M313.00 103.00 C313.67 103.83 316.33 107.17 317.00 108.00" stroke="#f06a14" stroke-width="6.5"/>
<path d="M398.00 88.00 C399.67 89.00 404.83 92.00 408.00 94.00 C411.17 96.00 415.50 99.00 417.00 100.00" stroke="#f06a14" stroke-width="15.5"/>
<path d="M410.00 136.00 C410.67 138.00 413.33 146.00 414.00 148.00" stroke="#f06a14" stroke-width="6.5"/>
<path d="M334.00 4.00 C336.17 4.33 344.83 5.67 347.00 6.00" stroke="#f06a14" stroke-width="5.5"/>
<path d="M264.00 4.00 C270.00 4.17 294.00 4.83 300.00 5.00" stroke="#f06a14" stroke-width="4.0"/>
</g></g>
<path d="M332.00 106.00 C333.00 105.17 336.00 101.83 338.00 101.00 C340.00 100.17 342.17 100.50 344.00 101.00 C345.83 101.50 347.50 102.50 349.00 104.00 C350.50 105.50 351.83 107.83 353.00 110.00 C354.17 112.17 356.00 114.67 356.00 117.00 C356.00 119.33 354.33 121.83 353.00 124.00 C351.67 126.17 350.00 128.33 348.00 130.00 C346.00 131.67 343.33 133.83 341.00 134.00 C338.67 134.17 335.83 133.00 334.00 131.00 C332.17 129.00 330.67 125.17 330.00 122.00 C329.33 118.83 330.00 113.67 330.00 112.00 Z" fill="#f06a14" filter="url(#b1)"/>
<g filter="url(#b05)" fill="none" stroke-linecap="round" stroke-linejoin="round">
<path d="M264.00 86.00 C266.33 86.50 273.33 87.50 278.00 89.00 C282.67 90.50 287.33 93.17 292.00 95.00 C296.67 96.83 302.00 98.50 306.00 100.00 C310.00 101.50 314.33 103.33 316.00 104.00" stroke="#f06a14" stroke-width="4.2"/>
<path d="M272.00 76.00 C273.67 76.67 278.83 78.67 282.00 80.00 C285.17 81.33 289.50 83.33 291.00 84.00" stroke="#f06a14" stroke-width="2.1"/>
<path d="M282.50 30.80 C283.25 32.67 285.33 38.13 287.00 42.00 C288.67 45.87 291.25 50.17 292.50 54.00 C293.75 57.83 294.08 60.50 294.50 65.00 C294.92 69.50 294.92 78.33 295.00 81.00" stroke="#f06a14" stroke-width="4.2"/>
<path d="M311.00 8.00 C311.67 9.67 314.08 13.50 315.00 18.00 C315.92 22.50 316.08 29.00 316.50 35.00 C316.92 41.00 317.25 48.17 317.50 54.00 C317.75 59.83 318.08 64.17 318.00 70.00 C317.92 75.83 317.67 84.00 317.00 89.00 C316.33 94.00 314.50 98.17 314.00 100.00" stroke="#f06a14" stroke-width="3.0"/>
<path d="M336.50 2.00 C336.75 5.00 337.25 13.67 338.00 20.00 C338.75 26.33 339.83 34.17 341.00 40.00 C342.17 45.83 343.67 50.00 345.00 55.00 C346.33 60.00 348.00 65.50 349.00 70.00 C350.00 74.50 351.00 78.00 351.00 82.00 C351.00 86.00 350.00 90.33 349.00 94.00 C348.00 97.67 345.67 102.33 345.00 104.00" stroke="#f06a14" stroke-width="3.3"/>
<path d="M351.20 42.50 C352.60 44.58 357.17 50.15 359.60 55.00 C362.03 59.85 364.23 67.80 365.80 71.60 C367.37 75.40 368.30 75.40 369.00 77.80 C369.70 80.20 369.83 84.63 370.00 86.00" stroke="#f06a14" stroke-width="2.4"/>
<path d="M370.00 44.60 C371.03 46.33 373.78 51.20 376.20 55.00 C378.62 58.80 382.08 63.60 384.50 67.40 C386.92 71.20 388.28 74.87 390.70 77.80 C393.12 80.73 397.62 83.80 399.00 85.00" stroke="#f06a14" stroke-width="2.4"/>
<path d="M370.60 19.00 C373.25 20.50 383.85 26.50 386.50 28.00" stroke="#f06a14" stroke-width="1.8"/>
<path d="M400.00 32.00 C401.67 32.67 407.17 34.67 410.00 36.00 C412.83 37.33 415.83 39.33 417.00 40.00" stroke="#f06a14" stroke-width="5.4"/>
<path d="M395.00 15.00 C396.50 15.33 402.50 16.67 404.00 17.00" stroke="#f06a14" stroke-width="2.4"/>
<path d="M272.00 122.00 C272.67 123.33 274.83 127.50 276.00 130.00 C277.17 132.50 278.50 135.83 279.00 137.00" stroke="#f06a14" stroke-width="2.4"/>
<path d="M302.00 116.00 C302.67 118.00 304.83 124.00 306.00 128.00 C307.17 132.00 308.50 138.00 309.00 140.00" stroke="#f06a14" stroke-width="3.0"/>
<path d="M264.00 140.00 C265.00 141.33 268.67 145.67 270.00 148.00 C271.33 150.33 271.67 153.00 272.00 154.00" stroke="#f06a14" stroke-width="3.0"/>
<path d="M338.00 128.00 C337.17 129.67 334.67 134.67 333.00 138.00 C331.33 141.33 328.83 146.33 328.00 148.00" stroke="#f06a14" stroke-width="3.6"/>
<path d="M313.00 103.00 C313.67 103.83 316.33 107.17 317.00 108.00" stroke="#f06a14" stroke-width="3.0"/>
<path d="M398.00 88.00 C399.67 89.00 404.83 92.00 408.00 94.00 C411.17 96.00 415.50 99.00 417.00 100.00" stroke="#f06a14" stroke-width="8.4"/>
<path d="M410.00 136.00 C410.67 138.00 413.33 146.00 414.00 148.00" stroke="#f06a14" stroke-width="3.0"/>
<path d="M334.00 4.00 C336.17 4.33 344.83 5.67 347.00 6.00" stroke="#f06a14" stroke-width="2.4"/>
<path d="M264.00 4.00 C270.00 4.17 294.00 4.83 300.00 5.00" stroke="#f06a14" stroke-width="1.5"/>
</g>
<path d="M270.00 88.00 C273.33 89.17 283.33 92.67 290.00 95.00 C296.67 97.33 306.67 100.83 310.00 102.00" fill="none" stroke="#ffa81a" stroke-width="2.6" stroke-linecap="round" filter="url(#b05)"/>
<g filter="url(#b05)" fill="none" stroke="#ffe81a" stroke-linecap="round" stroke-linejoin="round">
<path d="M289.80 16.90 C289.17 18.25 287.10 22.23 286.00 25.00 C284.90 27.77 283.67 32.08 283.20 33.50" stroke-width="2.0"/>
<path d="M284.00 28.00 C284.50 30.00 285.67 35.83 287.00 40.00 C288.33 44.17 290.75 49.33 292.00 53.00 C293.25 56.67 294.08 60.50 294.50 62.00" stroke-width="4.8"/>
<path d="M312.00 10.00 C312.50 11.33 314.25 13.83 315.00 18.00 C315.75 22.17 316.08 29.00 316.50 35.00 C316.92 41.00 317.25 49.17 317.50 54.00 C317.75 58.83 317.92 62.33 318.00 64.00" stroke-width="2.6"/>
<path d="M339.00 24.00 C339.33 26.67 340.00 34.83 341.00 40.00 C342.00 45.17 343.67 50.00 345.00 55.00 C346.33 60.00 348.00 65.50 349.00 70.00 C350.00 74.50 351.00 78.00 351.00 82.00 C351.00 86.00 349.83 90.83 349.00 94.00 C348.17 97.17 346.50 99.83 346.00 101.00" stroke-width="3.2"/>
<path d="M411.30 108.80 C409.08 112.33 402.50 122.80 398.00 130.00 C393.50 137.20 386.58 148.33 384.30 152.00" stroke-width="1.8"/>
<path d="M404.00 89.00 C406.00 90.17 414.00 94.83 416.00 96.00" stroke-width="3.0"/>
</g>
<path d="M335.00 107.00 C336.00 106.33 339.00 103.50 341.00 103.00 C343.00 102.50 345.33 102.83 347.00 104.00 C348.67 105.17 350.00 107.83 351.00 110.00 C352.00 112.17 353.17 114.67 353.00 117.00 C352.83 119.33 351.50 122.00 350.00 124.00 C348.50 126.00 346.17 128.50 344.00 129.00 C341.83 129.50 338.83 128.83 337.00 127.00 C335.17 125.17 333.67 119.50 333.00 118.00 Z" fill="#ffb818" filter="url(#b1)"/>
<g filter="url(#mOr)"><path d="M337.00 108.00 C338.00 107.50 341.17 105.33 343.00 105.00 C344.83 104.67 346.83 104.67 348.00 106.00 C349.17 107.33 349.67 110.50 350.00 113.00 C350.33 115.50 350.83 118.83 350.00 121.00 C349.17 123.17 347.00 125.50 345.00 126.00 C343.00 126.50 339.50 125.67 338.00 124.00 C336.50 122.33 336.33 117.33 336.00 116.00 Z" fill="#ffe81a" filter="url(#b05)"/></g>
</g>
<text x="271.80" y="16.80" textLength="97.79" lengthAdjust="spacingAndGlyphs" style="font-size:13.20px;fill:#fff">Terpolymer/PDs</text>
<text x="271.68" y="34.80" textLength="63.18" lengthAdjust="spacingAndGlyphs" style="font-size:13.20px;fill:#fff">@1286 cm</text>
<text x="334.81" y="29.60" textLength="7.82" lengthAdjust="spacingAndGlyphs" style="font-size:7.60px;fill:#fff">-1</text>
<path d="M324.4 92.9 H332.8 M328.6 88.7 V97.1" stroke="#fff" stroke-width="1.9"/>
<text x="333.00" y="90.00" textLength="4.39" lengthAdjust="spacingAndGlyphs" style="font-size:9.60px;fill:#fff">1</text>
<path d="M336.8 114.0 H345.2 M341.0 109.8 V118.2" stroke="#000" stroke-width="1.9"/>
<text x="343.69" y="123.30" textLength="5.62" lengthAdjust="spacingAndGlyphs" style="font-size:9.60px;fill:#000">2</text>
<rect x="419.9" y="3.7" width="5.1" height="150.3" fill="url(#cmap)"/>
<text x="425.99" y="11.50" textLength="20.73" lengthAdjust="spacingAndGlyphs" style="font-size:10.80px;fill:#1a1a1a">15.0</text>
<text x="427.46" y="49.10" textLength="14.58" lengthAdjust="spacingAndGlyphs" style="font-size:10.80px;fill:#1a1a1a">7.5</text>
<text x="427.22" y="83.60" textLength="6.86" lengthAdjust="spacingAndGlyphs" style="font-size:10.80px;fill:#1a1a1a">0</text>
<text x="427.00" y="117.70" textLength="19.48" lengthAdjust="spacingAndGlyphs" style="font-size:10.80px;fill:#1a1a1a">-7.5</text>
<text x="425.94" y="153.20" textLength="23.77" lengthAdjust="spacingAndGlyphs" style="font-size:10.80px;fill:#1a1a1a">-15.0</text>
<text x="416.42" y="163.80" textLength="44.35" lengthAdjust="spacingAndGlyphs" style="font-size:9.60px;fill:#333">(arb. units)</text>
<path d="M264 168.8 V159.9 H415.6 V168.8" fill="none" stroke="#666" stroke-width="1.6"/>
<text x="330.08" y="172.70" textLength="24.24" lengthAdjust="spacingAndGlyphs" style="font-size:10.40px;fill:#1a1a1a">1 µm</text>
<text x="242.56" y="7.80" textLength="7.64" lengthAdjust="spacingAndGlyphs" style="font-size:14.50px;font-weight:bold">c</text>
<g clip-path="url(#clipd)">
<rect x="265.0" y="212.3" width="151.6" height="149.8" fill="#ae1a2a"/>
<g filter="url(#b3)" fill="none" stroke="#d81c22" stroke-linecap="round" opacity="0.9">
<path d="M345.00 219.00 C350.83 219.33 368.00 220.33 380.00 221.00 C392.00 221.67 410.83 222.67 417.00 223.00" stroke-width="5" stroke-dasharray="50 16" stroke-dashoffset="8"/>
<path d="M330.00 220.00 C335.80 220.80 353.80 222.70 364.80 224.80 C375.80 226.90 387.30 230.33 396.00 232.60 C404.70 234.87 413.50 237.43 417.00 238.40" stroke-width="5" stroke-dasharray="58 15" stroke-dashoffset="40"/>
<path d="M265.00 231.00 C268.33 231.50 278.33 233.17 285.00 234.00 C291.67 234.83 301.67 235.67 305.00 236.00" stroke-width="5" stroke-dasharray="39 8" stroke-dashoffset="30"/>
<path d="M320.00 241.00 C326.17 241.22 347.58 241.58 357.00 242.30 C366.42 243.02 369.03 243.68 376.50 245.30 C383.97 246.92 395.05 250.22 401.80 252.00 C408.55 253.78 414.47 255.33 417.00 256.00" stroke-width="5" stroke-dasharray="51 16" stroke-dashoffset="14"/>
<path d="M265.00 252.00 C269.87 252.63 284.20 254.35 294.20 255.80 C304.20 257.25 314.53 259.42 325.00 260.70 C335.47 261.98 348.42 262.50 357.00 263.50 C365.58 264.50 370.00 265.35 376.50 266.70 C383.00 268.05 389.25 269.82 396.00 271.60 C402.75 273.38 413.50 276.43 417.00 277.40" stroke-width="5" stroke-dasharray="47 15" stroke-dashoffset="34"/>
<path d="M265.00 267.50 C269.87 268.00 284.20 269.35 294.20 270.50 C304.20 271.65 314.53 273.48 325.00 274.40 C335.47 275.32 346.83 274.52 357.00 276.00 C367.17 277.48 376.00 280.63 386.00 283.30 C396.00 285.97 411.83 290.55 417.00 292.00" stroke-width="5" stroke-dasharray="70 15" stroke-dashoffset="25"/>
<path d="M265.00 277.30 C269.87 278.12 284.20 280.58 294.20 282.20 C304.20 283.82 314.53 284.40 325.00 287.00 C335.47 289.60 348.42 294.70 357.00 297.80 C365.58 300.90 370.00 303.65 376.50 305.60 C383.00 307.55 389.25 308.20 396.00 309.50 C402.75 310.80 413.50 312.75 417.00 313.40" stroke-width="5" stroke-dasharray="44 11" stroke-dashoffset="40"/>
<path d="M265.00 294.80 C268.25 295.45 278.00 297.57 284.50 298.70 C291.00 299.83 297.25 300.30 304.00 301.60 C310.75 302.90 315.50 304.53 325.00 306.50 C334.50 308.47 350.83 310.62 361.00 313.40 C371.17 316.18 376.67 320.27 386.00 323.20 C395.33 326.13 411.83 329.70 417.00 331.00" stroke-width="5" stroke-dasharray="44 16" stroke-dashoffset="24"/>
<path d="M265.00 310.00 C269.87 310.07 284.20 309.35 294.20 310.40 C304.20 311.45 312.92 313.53 325.00 316.30 C337.08 319.07 354.87 323.25 366.70 327.00 C378.53 330.75 387.62 335.53 396.00 338.80 C404.38 342.07 413.50 345.30 417.00 346.60" stroke-width="5" stroke-dasharray="35 9" stroke-dashoffset="10"/>
<path d="M265.00 322.60 C270.17 323.37 285.62 325.13 296.00 327.20 C306.38 329.27 319.13 332.92 327.30 335.00 C335.47 337.08 335.22 337.77 345.00 339.70 C354.78 341.63 374.00 343.83 386.00 346.60 C398.00 349.37 411.83 354.68 417.00 356.30" stroke-width="5" stroke-dasharray="37 12" stroke-dashoffset="1"/>
<path d="M265.00 338.00 C270.17 339.07 283.33 342.30 296.00 344.40 C308.67 346.50 327.00 348.50 341.00 350.60 C355.00 352.70 367.33 354.60 380.00 357.00 C392.67 359.40 410.83 363.67 417.00 365.00" stroke-width="5" stroke-dasharray="52 15" stroke-dashoffset="38"/>
<path d="M265.00 353.00 C270.83 353.67 287.50 355.33 300.00 357.00 C312.50 358.67 330.00 361.17 340.00 363.00 C350.00 364.83 356.67 367.17 360.00 368.00" stroke-width="5" stroke-dasharray="59 14" stroke-dashoffset="25"/>
</g>
<g filter="url(#b2)" fill="none" stroke="#5e2650" stroke-linecap="round" opacity="0.7">
<path d="M345.00 213.00 C350.83 213.33 368.00 214.33 380.00 215.00 C392.00 215.67 410.83 216.67 417.00 217.00" stroke-width="3.4"/>
<path d="M330.00 214.00 C335.80 214.80 353.80 216.70 364.80 218.80 C375.80 220.90 387.30 224.33 396.00 226.60 C404.70 228.87 413.50 231.43 417.00 232.40" stroke-width="3.4"/>
<path d="M265.00 225.00 C268.33 225.50 278.33 227.17 285.00 228.00 C291.67 228.83 301.67 229.67 305.00 230.00" stroke-width="3.4"/>
<path d="M320.00 235.00 C326.17 235.22 347.58 235.58 357.00 236.30 C366.42 237.02 369.03 237.68 376.50 239.30 C383.97 240.92 395.05 244.22 401.80 246.00 C408.55 247.78 414.47 249.33 417.00 250.00" stroke-width="3.4"/>
<path d="M265.00 246.00 C269.87 246.63 284.20 248.35 294.20 249.80 C304.20 251.25 314.53 253.42 325.00 254.70 C335.47 255.98 348.42 256.50 357.00 257.50 C365.58 258.50 370.00 259.35 376.50 260.70 C383.00 262.05 389.25 263.82 396.00 265.60 C402.75 267.38 413.50 270.43 417.00 271.40" stroke-width="3.4"/>
<path d="M265.00 261.50 C269.87 262.00 284.20 263.35 294.20 264.50 C304.20 265.65 314.53 267.48 325.00 268.40 C335.47 269.32 346.83 268.52 357.00 270.00 C367.17 271.48 376.00 274.63 386.00 277.30 C396.00 279.97 411.83 284.55 417.00 286.00" stroke-width="3.4"/>
<path d="M265.00 271.30 C269.87 272.12 284.20 274.58 294.20 276.20 C304.20 277.82 314.53 278.40 325.00 281.00 C335.47 283.60 348.42 288.70 357.00 291.80 C365.58 294.90 370.00 297.65 376.50 299.60 C383.00 301.55 389.25 302.20 396.00 303.50 C402.75 304.80 413.50 306.75 417.00 307.40" stroke-width="3.4"/>
<path d="M265.00 288.80 C268.25 289.45 278.00 291.57 284.50 292.70 C291.00 293.83 297.25 294.30 304.00 295.60 C310.75 296.90 315.50 298.53 325.00 300.50 C334.50 302.47 350.83 304.62 361.00 307.40 C371.17 310.18 376.67 314.27 386.00 317.20 C395.33 320.13 411.83 323.70 417.00 325.00" stroke-width="3.4"/>
<path d="M265.00 304.00 C269.87 304.07 284.20 303.35 294.20 304.40 C304.20 305.45 312.92 307.53 325.00 310.30 C337.08 313.07 354.87 317.25 366.70 321.00 C378.53 324.75 387.62 329.53 396.00 332.80 C404.38 336.07 413.50 339.30 417.00 340.60" stroke-width="3.4"/>
<path d="M265.00 316.60 C270.17 317.37 285.62 319.13 296.00 321.20 C306.38 323.27 319.13 326.92 327.30 329.00 C335.47 331.08 335.22 331.77 345.00 333.70 C354.78 335.63 374.00 337.83 386.00 340.60 C398.00 343.37 411.83 348.68 417.00 350.30" stroke-width="3.4"/>
<path d="M265.00 332.00 C270.17 333.07 283.33 336.30 296.00 338.40 C308.67 340.50 327.00 342.50 341.00 344.60 C355.00 346.70 367.33 348.60 380.00 351.00 C392.67 353.40 410.83 357.67 417.00 359.00" stroke-width="3.4"/>
<path d="M265.00 347.00 C270.83 347.67 287.50 349.33 300.00 351.00 C312.50 352.67 330.00 355.17 340.00 357.00 C350.00 358.83 356.67 361.17 360.00 362.00" stroke-width="3.4"/>
</g>
<g filter="url(#b05)" fill="none" stroke="#5a2a5c" stroke-linecap="round" opacity="0.6">
<path d="M345.00 214.00 C350.83 214.33 368.00 215.33 380.00 216.00 C392.00 216.67 410.83 217.67 417.00 218.00" stroke-width="1.2"/>
<path d="M330.00 215.00 C335.80 215.80 353.80 217.70 364.80 219.80 C375.80 221.90 387.30 225.33 396.00 227.60 C404.70 229.87 413.50 232.43 417.00 233.40" stroke-width="1.2"/>
<path d="M265.00 226.00 C268.33 226.50 278.33 228.17 285.00 229.00 C291.67 229.83 301.67 230.67 305.00 231.00" stroke-width="1.2"/>
<path d="M320.00 236.00 C326.17 236.22 347.58 236.58 357.00 237.30 C366.42 238.02 369.03 238.68 376.50 240.30 C383.97 241.92 395.05 245.22 401.80 247.00 C408.55 248.78 414.47 250.33 417.00 251.00" stroke-width="1.2"/>
<path d="M265.00 247.00 C269.87 247.63 284.20 249.35 294.20 250.80 C304.20 252.25 314.53 254.42 325.00 255.70 C335.47 256.98 348.42 257.50 357.00 258.50 C365.58 259.50 370.00 260.35 376.50 261.70 C383.00 263.05 389.25 264.82 396.00 266.60 C402.75 268.38 413.50 271.43 417.00 272.40" stroke-width="1.2"/>
<path d="M265.00 262.50 C269.87 263.00 284.20 264.35 294.20 265.50 C304.20 266.65 314.53 268.48 325.00 269.40 C335.47 270.32 346.83 269.52 357.00 271.00 C367.17 272.48 376.00 275.63 386.00 278.30 C396.00 280.97 411.83 285.55 417.00 287.00" stroke-width="1.2"/>
<path d="M265.00 272.30 C269.87 273.12 284.20 275.58 294.20 277.20 C304.20 278.82 314.53 279.40 325.00 282.00 C335.47 284.60 348.42 289.70 357.00 292.80 C365.58 295.90 370.00 298.65 376.50 300.60 C383.00 302.55 389.25 303.20 396.00 304.50 C402.75 305.80 413.50 307.75 417.00 308.40" stroke-width="1.2"/>
<path d="M265.00 289.80 C268.25 290.45 278.00 292.57 284.50 293.70 C291.00 294.83 297.25 295.30 304.00 296.60 C310.75 297.90 315.50 299.53 325.00 301.50 C334.50 303.47 350.83 305.62 361.00 308.40 C371.17 311.18 376.67 315.27 386.00 318.20 C395.33 321.13 411.83 324.70 417.00 326.00" stroke-width="1.2"/>
<path d="M265.00 305.00 C269.87 305.07 284.20 304.35 294.20 305.40 C304.20 306.45 312.92 308.53 325.00 311.30 C337.08 314.07 354.87 318.25 366.70 322.00 C378.53 325.75 387.62 330.53 396.00 333.80 C404.38 337.07 413.50 340.30 417.00 341.60" stroke-width="1.2"/>
<path d="M265.00 317.60 C270.17 318.37 285.62 320.13 296.00 322.20 C306.38 324.27 319.13 327.92 327.30 330.00 C335.47 332.08 335.22 332.77 345.00 334.70 C354.78 336.63 374.00 338.83 386.00 341.60 C398.00 344.37 411.83 349.68 417.00 351.30" stroke-width="1.2"/>
<path d="M265.00 333.00 C270.17 334.07 283.33 337.30 296.00 339.40 C308.67 341.50 327.00 343.50 341.00 345.60 C355.00 347.70 367.33 349.60 380.00 352.00 C392.67 354.40 410.83 358.67 417.00 360.00" stroke-width="1.2"/>
<path d="M265.00 348.00 C270.83 348.67 287.50 350.33 300.00 352.00 C312.50 353.67 330.00 356.17 340.00 358.00 C350.00 359.83 356.67 362.17 360.00 363.00" stroke-width="1.2"/>
</g>
<g filter="url(#b1)" fill="none" stroke="#6a2a52" stroke-linecap="round" opacity="0.55" stroke-width="1.6">
<path d="M300 345 q-2 4 0 8"/>
<path d="M318 350 q-2 4 0 8"/>
<path d="M290 330 q-2 4 0 8"/>
<path d="M345 352 q-2 4 0 8"/>
<path d="M372 340 q-2 4 0 8"/>
<path d="M395 350 q-2 4 0 8"/>
<path d="M405 320 q-2 4 0 8"/>
<path d="M360 315 q-2 4 0 8"/>
<path d="M330 300 q-2 4 0 8"/>
<path d="M385 300 q-2 4 0 8"/>
<path d="M300 285 q-2 4 0 8"/>
<path d="M350 278 q-2 4 0 8"/>
<path d="M395 262 q-2 4 0 8"/>
<path d="M380 240 q-2 4 0 8"/>
</g>
<g filter="url(#b3)" fill="#6a2650" opacity="0.45">
<ellipse cx="390" cy="222" rx="24" ry="5"/>
<ellipse cx="285" cy="222" rx="22" ry="6"/>
</g>
</g>
<text x="274.00" y="226.80" textLength="67.52" lengthAdjust="spacingAndGlyphs" style="font-size:13.40px;fill:#fff">Terpolymer</text>
<text x="273.56" y="244.10" textLength="64.21" lengthAdjust="spacingAndGlyphs" style="font-size:13.40px;fill:#fff">@1286 cm</text>
<text x="337.40" y="239.60" textLength="7.93" lengthAdjust="spacingAndGlyphs" style="font-size:7.60px;fill:#fff">-1</text>
<path d="M324.9 322.5 H333.3 M329.1 318.3 V326.7" stroke="#fff" stroke-width="1.9"/>
<text x="332.23" y="317.80" textLength="5.40" lengthAdjust="spacingAndGlyphs" style="font-size:9.60px;fill:#fff">3</text>
<path d="M349.0 327.4 H357.4 M353.2 323.2 V331.6" stroke="#fff" stroke-width="1.9"/>
<text x="355.28" y="338.00" textLength="5.30" lengthAdjust="spacingAndGlyphs" style="font-size:9.60px;fill:#fff">4</text>
<rect x="420.9" y="212.7" width="5" height="149.7" fill="url(#cmap)"/>
<text x="426.67" y="215.90" textLength="21.15" lengthAdjust="spacingAndGlyphs" style="font-size:10.80px;fill:#1a1a1a">15.0</text>
<text x="428.16" y="253.70" textLength="14.58" lengthAdjust="spacingAndGlyphs" style="font-size:10.80px;fill:#1a1a1a">7.5</text>
<text x="427.52" y="287.60" textLength="6.86" lengthAdjust="spacingAndGlyphs" style="font-size:10.80px;fill:#1a1a1a">0</text>
<text x="427.40" y="322.10" textLength="19.48" lengthAdjust="spacingAndGlyphs" style="font-size:10.80px;fill:#1a1a1a">-7.5</text>
<text x="426.63" y="357.20" textLength="24.29" lengthAdjust="spacingAndGlyphs" style="font-size:10.80px;fill:#1a1a1a">-15.0</text>
<text x="418.72" y="372.20" textLength="44.56" lengthAdjust="spacingAndGlyphs" style="font-size:9.60px;fill:#333">(arb. units)</text>
<path d="M264.4 376 V367.9 H416.3 V376" fill="none" stroke="#666" stroke-width="1.6"/>
<text x="331.08" y="380.90" textLength="24.02" lengthAdjust="spacingAndGlyphs" style="font-size:10.40px;fill:#1a1a1a">1 µm</text>
<rect x="503.1" y="4.7" width="8.2" height="150.3" fill="#bcd7ec"/>
<path d="M472.20 116.00 C472.75 115.75 474.50 114.68 475.50 114.50 C476.50 114.32 477.30 115.13 478.20 114.90 C479.10 114.67 479.68 113.37 480.90 113.10 C482.12 112.83 484.13 113.42 485.50 113.30 C486.87 113.18 487.90 112.25 489.10 112.40 C490.30 112.55 491.63 113.68 492.70 114.20 C493.77 114.72 494.43 116.20 495.50 115.50 C496.57 114.80 497.90 111.73 499.10 110.00 C500.30 108.27 501.48 106.70 502.70 105.10 C503.92 103.50 505.33 101.40 506.40 100.40 C507.47 99.40 508.05 99.17 509.10 99.10 C510.15 99.03 511.48 100.30 512.70 100.00 C513.92 99.70 515.33 98.05 516.40 97.30 C517.47 96.55 518.05 96.12 519.10 95.50 C520.15 94.88 521.80 95.27 522.70 93.60 C523.60 91.93 523.73 88.90 524.50 85.50 C525.27 82.10 526.38 76.62 527.30 73.20 C528.22 69.78 528.95 66.97 530.00 65.00 C531.05 63.03 532.38 62.62 533.60 61.40 C534.82 60.18 536.08 59.13 537.30 57.70 C538.52 56.27 539.85 53.55 540.90 52.80 C541.95 52.05 542.83 53.08 543.60 53.20 C544.37 53.32 544.73 54.42 545.50 53.50 C546.27 52.58 547.30 49.42 548.20 47.70 C549.10 45.98 550.00 44.25 550.90 43.20 C551.80 42.15 552.83 42.47 553.60 41.40 C554.37 40.33 554.88 38.62 555.50 36.80 C556.12 34.98 556.70 31.87 557.30 30.50 C557.90 29.13 558.35 29.30 559.10 28.60 C559.85 27.90 561.05 26.60 561.80 26.30 C562.55 26.00 562.98 27.17 563.60 26.80 C564.22 26.43 564.83 25.10 565.50 24.10 C566.17 23.10 566.85 20.95 567.60 20.80 C568.35 20.65 569.15 21.58 570.00 23.20 C570.85 24.82 571.63 27.62 572.70 30.50 C573.77 33.38 575.33 37.02 576.40 40.50 C577.47 43.98 578.20 49.13 579.10 51.40 C580.00 53.67 580.90 53.05 581.80 54.10 C582.70 55.15 583.58 56.03 584.50 57.70 C585.42 59.37 586.30 62.82 587.30 64.10 C588.30 65.38 589.52 64.65 590.50 65.40 C591.48 66.15 592.30 67.15 593.20 68.60 C594.10 70.05 595.15 72.52 595.90 74.10 C596.65 75.68 597.10 77.73 597.70 78.10 C598.30 78.47 598.73 76.37 599.50 76.30 C600.27 76.23 601.23 76.70 602.30 77.70 C603.37 78.70 604.85 81.38 605.90 82.30 C606.95 83.22 607.83 83.05 608.60 83.20 C609.37 83.35 609.73 82.45 610.50 83.20 C611.27 83.95 612.45 87.33 613.20 87.70 C613.95 88.07 614.25 86.00 615.00 85.40 C615.75 84.80 616.78 83.72 617.70 84.10 C618.62 84.48 619.58 86.40 620.50 87.70 C621.42 89.00 622.30 91.28 623.20 91.90 C624.10 92.52 625.00 91.03 625.90 91.40 C626.80 91.77 627.38 92.53 628.60 94.10 C629.82 95.67 631.68 99.05 633.20 100.80 C634.72 102.55 636.33 103.90 637.70 104.60 C639.07 105.30 640.33 104.33 641.40 105.00 C642.47 105.67 643.05 107.23 644.10 108.60 C645.15 109.97 646.33 111.98 647.70 113.20 C649.07 114.42 650.78 114.90 652.30 115.90 C653.82 116.90 655.28 118.38 656.80 119.20 C658.32 120.02 659.88 120.28 661.40 120.80 C662.92 121.32 664.38 121.85 665.90 122.30 C667.42 122.75 669.13 123.05 670.50 123.50 C671.87 123.95 673.50 124.75 674.10 125.00" fill="none" stroke="#ff1a1a" stroke-width="1.2" stroke-linejoin="round"/>
<path d="M472.20 134.20 C473.05 133.95 475.70 133.10 477.30 132.70 C478.90 132.30 480.28 132.17 481.80 131.80 C483.32 131.43 484.88 130.65 486.40 130.50 C487.92 130.35 489.55 130.47 490.90 130.90 C492.25 131.33 493.28 133.25 494.50 133.10 C495.72 132.95 496.83 131.43 498.20 130.00 C499.57 128.57 501.18 126.10 502.70 124.50 C504.22 122.90 505.63 121.55 507.30 120.40 C508.97 119.25 511.03 118.63 512.70 117.60 C514.37 116.57 515.63 115.32 517.30 114.20 C518.97 113.08 521.18 112.97 522.70 110.90 C524.22 108.83 525.03 105.13 526.40 101.80 C527.77 98.47 529.38 93.32 530.90 90.90 C532.42 88.48 534.13 88.05 535.50 87.30 C536.87 86.55 538.18 86.85 539.10 86.40 C540.02 85.95 540.10 84.98 541.00 84.60 C541.90 84.22 543.15 85.25 544.50 84.10 C545.85 82.95 547.58 79.52 549.10 77.70 C550.62 75.88 552.38 74.72 553.60 73.20 C554.82 71.68 555.48 69.82 556.40 68.60 C557.32 67.38 558.20 66.80 559.10 65.90 C560.00 65.00 560.90 63.75 561.80 63.20 C562.70 62.65 563.53 62.90 564.50 62.60 C565.47 62.30 566.68 60.55 567.60 61.40 C568.52 62.25 569.15 66.18 570.00 67.70 C570.85 69.22 571.78 68.98 572.70 70.50 C573.62 72.02 574.58 74.68 575.50 76.80 C576.42 78.92 577.37 81.38 578.20 83.20 C579.03 85.02 579.52 86.13 580.50 87.70 C581.48 89.27 582.90 90.93 584.10 92.60 C585.30 94.27 586.48 96.38 587.70 97.70 C588.92 99.02 590.18 99.58 591.40 100.50 C592.62 101.42 593.95 102.15 595.00 103.20 C596.05 104.25 596.78 106.25 597.70 106.80 C598.62 107.35 599.43 106.35 600.50 106.50 C601.57 106.65 603.05 107.20 604.10 107.70 C605.15 108.20 605.90 109.03 606.80 109.50 C607.70 109.97 608.58 110.03 609.50 110.50 C610.42 110.97 611.23 112.30 612.30 112.30 C613.37 112.30 615.00 110.80 615.90 110.50 C616.80 110.20 616.93 110.27 617.70 110.50 C618.47 110.73 619.58 111.00 620.50 111.90 C621.42 112.80 622.30 115.17 623.20 115.90 C624.10 116.63 624.68 115.70 625.90 116.30 C627.12 116.90 629.13 118.30 630.50 119.50 C631.87 120.70 632.90 122.43 634.10 123.50 C635.30 124.57 636.48 125.50 637.70 125.90 C638.92 126.30 640.18 125.45 641.40 125.90 C642.62 126.35 643.65 127.48 645.00 128.60 C646.35 129.72 648.13 131.75 649.50 132.60 C650.87 133.45 651.83 132.90 653.20 133.70 C654.57 134.50 656.33 136.55 657.70 137.40 C659.07 138.25 660.03 138.60 661.40 138.80 C662.77 139.00 664.38 138.53 665.90 138.60 C667.42 138.67 669.13 139.05 670.50 139.20 C671.87 139.35 673.50 139.45 674.10 139.50" fill="none" stroke="#1c1c8e" stroke-width="1.2" stroke-linejoin="round"/>
<path d="M472.5 4.7 H674.6 V155.0" fill="none" stroke="#151515" stroke-width="1.25"/>
<path d="M472.5 4.7 V155.0 H674.6" fill="none" stroke="#111" stroke-width="1.2"/>
<line x1="472.50" y1="155.0" x2="472.50" y2="158.0" stroke="#111" stroke-width="1"/>
<line x1="472.50" y1="4.7" x2="472.50" y2="5.9" stroke="#666" stroke-width="0.7"/>
<line x1="486.94" y1="155.0" x2="486.94" y2="156.6" stroke="#111" stroke-width="1"/>
<line x1="486.94" y1="4.7" x2="486.94" y2="5.9" stroke="#666" stroke-width="0.7"/>
<line x1="501.37" y1="155.0" x2="501.37" y2="158.0" stroke="#111" stroke-width="1"/>
<line x1="501.37" y1="4.7" x2="501.37" y2="5.9" stroke="#666" stroke-width="0.7"/>
<line x1="515.81" y1="155.0" x2="515.81" y2="156.6" stroke="#111" stroke-width="1"/>
<line x1="515.81" y1="4.7" x2="515.81" y2="5.9" stroke="#666" stroke-width="0.7"/>
<line x1="530.24" y1="155.0" x2="530.24" y2="158.0" stroke="#111" stroke-width="1"/>
<line x1="530.24" y1="4.7" x2="530.24" y2="5.9" stroke="#666" stroke-width="0.7"/>
<line x1="544.68" y1="155.0" x2="544.68" y2="156.6" stroke="#111" stroke-width="1"/>
<line x1="544.68" y1="4.7" x2="544.68" y2="5.9" stroke="#666" stroke-width="0.7"/>
<line x1="559.11" y1="155.0" x2="559.11" y2="158.0" stroke="#111" stroke-width="1"/>
<line x1="559.11" y1="4.7" x2="559.11" y2="5.9" stroke="#666" stroke-width="0.7"/>
<line x1="573.55" y1="155.0" x2="573.55" y2="156.6" stroke="#111" stroke-width="1"/>
<line x1="573.55" y1="4.7" x2="573.55" y2="5.9" stroke="#666" stroke-width="0.7"/>
<line x1="587.99" y1="155.0" x2="587.99" y2="158.0" stroke="#111" stroke-width="1"/>
<line x1="587.99" y1="4.7" x2="587.99" y2="5.9" stroke="#666" stroke-width="0.7"/>
<line x1="602.42" y1="155.0" x2="602.42" y2="156.6" stroke="#111" stroke-width="1"/>
<line x1="602.42" y1="4.7" x2="602.42" y2="5.9" stroke="#666" stroke-width="0.7"/>
<line x1="616.86" y1="155.0" x2="616.86" y2="158.0" stroke="#111" stroke-width="1"/>
<line x1="616.86" y1="4.7" x2="616.86" y2="5.9" stroke="#666" stroke-width="0.7"/>
<line x1="631.29" y1="155.0" x2="631.29" y2="156.6" stroke="#111" stroke-width="1"/>
<line x1="631.29" y1="4.7" x2="631.29" y2="5.9" stroke="#666" stroke-width="0.7"/>
<line x1="645.73" y1="155.0" x2="645.73" y2="158.0" stroke="#111" stroke-width="1"/>
<line x1="645.73" y1="4.7" x2="645.73" y2="5.9" stroke="#666" stroke-width="0.7"/>
<line x1="660.16" y1="155.0" x2="660.16" y2="156.6" stroke="#111" stroke-width="1"/>
<line x1="660.16" y1="4.7" x2="660.16" y2="5.9" stroke="#666" stroke-width="0.7"/>
<line x1="674.60" y1="155.0" x2="674.60" y2="158.0" stroke="#111" stroke-width="1"/>
<line x1="674.60" y1="4.7" x2="674.60" y2="5.9" stroke="#666" stroke-width="0.7"/>
<text x="462.42" y="167.00" textLength="19.83" lengthAdjust="spacingAndGlyphs" style="font-size:9.90px">1350</text>
<text x="491.29" y="167.00" textLength="19.83" lengthAdjust="spacingAndGlyphs" style="font-size:9.90px">1300</text>
<text x="520.16" y="167.00" textLength="19.83" lengthAdjust="spacingAndGlyphs" style="font-size:9.90px">1250</text>
<text x="549.04" y="167.00" textLength="19.83" lengthAdjust="spacingAndGlyphs" style="font-size:9.90px">1200</text>
<text x="577.91" y="167.00" textLength="19.83" lengthAdjust="spacingAndGlyphs" style="font-size:9.90px">1150</text>
<text x="606.78" y="167.00" textLength="19.83" lengthAdjust="spacingAndGlyphs" style="font-size:9.90px">1100</text>
<text x="635.65" y="167.00" textLength="19.83" lengthAdjust="spacingAndGlyphs" style="font-size:9.90px">1050</text>
<text x="664.52" y="167.00" textLength="19.83" lengthAdjust="spacingAndGlyphs" style="font-size:9.90px">1000</text>
<text x="530.16" y="180.50" textLength="76.89" lengthAdjust="spacingAndGlyphs" style="font-size:10.50px">Wavenumber (cm</text>
<text x="607.30" y="176.20" textLength="6.03" lengthAdjust="spacingAndGlyphs" style="font-size:6.50px">-1</text>
<text x="613.54" y="180.50" textLength="3.27" lengthAdjust="spacingAndGlyphs" style="font-size:10.50px">)</text>
<text transform="translate(463.80 0) rotate(-90)" x="-123.52" y="0" textLength="82.44" lengthAdjust="spacingAndGlyphs" style="font-size:10.30px">IR amp (arb. units)</text>
<line x1="627.6" y1="16.8" x2="645.8" y2="16.8" stroke="#1c1c8e" stroke-width="1.4"/>
<line x1="627.6" y1="27.3" x2="645.8" y2="27.3" stroke="#ff1a1a" stroke-width="1.4"/>
<text x="647.62" y="20.00" textLength="21.18" lengthAdjust="spacingAndGlyphs" style="font-size:9.60px">Site 1</text>
<text x="647.61" y="30.20" textLength="21.82" lengthAdjust="spacingAndGlyphs" style="font-size:9.60px">Site 2</text>
<text x="604.69" y="43.00" textLength="46.26" lengthAdjust="spacingAndGlyphs" style="font-size:9.70px">Terpolymer</text>
<text x="457.33" y="7.80" textLength="8.18" lengthAdjust="spacingAndGlyphs" style="font-size:14.50px;font-weight:bold">e</text>
<rect x="503.1" y="208.0" width="8.2" height="149.5" fill="#bcd7ec"/>
<path d="M472.20 325.80 C473.05 325.43 475.55 324.20 477.30 323.60 C479.05 323.00 481.03 322.55 482.70 322.20 C484.37 321.85 485.78 321.50 487.30 321.50 C488.82 321.50 490.28 322.15 491.80 322.20 C493.32 322.25 495.03 322.32 496.40 321.80 C497.77 321.28 498.65 320.15 500.00 319.10 C501.35 318.05 502.98 316.47 504.50 315.50 C506.02 314.53 507.58 314.07 509.10 313.30 C510.62 312.53 512.08 311.53 513.60 310.90 C515.12 310.27 516.98 310.17 518.20 309.50 C519.42 308.83 520.00 308.33 520.90 306.90 C521.80 305.47 522.68 303.27 523.60 300.90 C524.52 298.53 525.48 295.27 526.40 292.70 C527.32 290.13 528.05 287.92 529.10 285.50 C530.15 283.08 531.48 280.18 532.70 278.20 C533.92 276.22 535.27 274.73 536.40 273.60 C537.53 272.47 538.37 271.92 539.50 271.40 C540.63 270.88 541.83 271.27 543.20 270.50 C544.57 269.73 546.33 268.47 547.70 266.80 C549.07 265.13 550.33 262.62 551.40 260.50 C552.47 258.38 553.20 255.93 554.10 254.10 C555.00 252.27 555.90 251.32 556.80 249.50 C557.70 247.68 558.58 245.17 559.50 243.20 C560.42 241.23 561.38 239.67 562.30 237.70 C563.22 235.73 564.10 232.70 565.00 231.40 C565.90 230.10 566.78 230.05 567.70 229.90 C568.62 229.75 569.58 229.20 570.50 230.50 C571.42 231.80 572.30 235.13 573.20 237.70 C574.10 240.27 575.00 243.32 575.90 245.90 C576.80 248.48 577.68 251.08 578.60 253.20 C579.52 255.32 580.33 256.48 581.40 258.60 C582.47 260.72 583.80 264.23 585.00 265.90 C586.20 267.57 587.38 267.38 588.60 268.60 C589.82 269.82 591.08 271.83 592.30 273.20 C593.52 274.57 594.70 275.90 595.90 276.80 C597.10 277.70 598.30 278.15 599.50 278.60 C600.70 279.05 601.80 279.20 603.10 279.50 C604.40 279.80 606.08 279.80 607.30 280.40 C608.52 281.00 609.37 283.00 610.40 283.10 C611.43 283.20 612.28 281.52 613.50 281.00 C614.72 280.48 616.32 280.17 617.70 280.00 C619.08 279.83 620.42 279.60 621.80 280.00 C623.18 280.40 624.62 281.72 626.00 282.40 C627.38 283.08 628.88 283.12 630.10 284.10 C631.32 285.08 632.15 286.92 633.30 288.30 C634.45 289.68 635.80 291.62 637.00 292.40 C638.20 293.18 639.22 292.30 640.50 293.00 C641.78 293.70 643.48 295.32 644.70 296.60 C645.92 297.88 646.58 299.32 647.80 300.70 C649.02 302.08 650.43 303.68 652.00 304.90 C653.57 306.12 655.47 307.20 657.20 308.00 C658.93 308.80 660.67 309.18 662.40 309.70 C664.13 310.22 666.05 310.45 667.60 311.10 C669.15 311.75 670.50 312.83 671.70 313.60 C672.90 314.37 674.28 315.35 674.80 315.70" fill="none" stroke="#ff1a1a" stroke-width="1.2" stroke-linejoin="round"/>
<path d="M472.20 339.90 C473.27 339.62 476.13 338.70 478.60 338.20 C481.07 337.70 484.88 337.07 487.00 336.90 C489.12 336.73 489.88 336.98 491.30 337.20 C492.72 337.42 494.10 338.25 495.50 338.20 C496.90 338.15 498.30 337.53 499.70 336.90 C501.10 336.27 502.50 335.10 503.90 334.40 C505.30 333.70 506.68 333.18 508.10 332.70 C509.52 332.22 510.98 331.93 512.40 331.50 C513.82 331.07 515.33 330.55 516.60 330.10 C517.87 329.65 518.88 329.78 520.00 328.80 C521.12 327.82 522.38 325.82 523.30 324.20 C524.22 322.58 524.53 321.02 525.50 319.10 C526.47 317.18 527.90 314.52 529.10 312.70 C530.30 310.88 531.72 309.42 532.70 308.20 C533.68 306.98 533.87 306.53 535.00 305.40 C536.13 304.27 538.13 302.13 539.50 301.40 C540.87 300.67 541.83 301.62 543.20 301.00 C544.57 300.38 546.33 299.15 547.70 297.70 C549.07 296.25 550.33 293.97 551.40 292.30 C552.47 290.63 553.50 288.47 554.10 287.70 C554.70 286.93 554.10 288.75 555.00 287.70 C555.90 286.65 558.13 283.37 559.50 281.40 C560.87 279.43 561.98 277.37 563.20 275.90 C564.42 274.43 565.58 273.05 566.80 272.60 C568.02 272.15 569.43 272.35 570.50 273.20 C571.57 274.05 572.30 276.03 573.20 277.70 C574.10 279.37 575.00 281.32 575.90 283.20 C576.80 285.08 577.53 287.03 578.60 289.00 C579.67 290.97 581.08 293.55 582.30 295.00 C583.52 296.45 584.70 296.88 585.90 297.70 C587.10 298.52 588.28 299.05 589.50 299.90 C590.72 300.75 591.98 302.02 593.20 302.80 C594.42 303.58 595.58 304.08 596.80 304.60 C598.02 305.12 599.45 305.75 600.50 305.90 C601.55 306.05 601.97 305.50 603.10 305.50 C604.23 305.50 606.08 305.38 607.30 305.90 C608.52 306.42 609.37 308.42 610.40 308.60 C611.43 308.78 612.28 307.42 613.50 307.00 C614.72 306.58 616.13 306.17 617.70 306.10 C619.27 306.03 621.52 306.18 622.90 306.60 C624.28 307.02 624.80 308.02 626.00 308.60 C627.20 309.18 628.88 309.33 630.10 310.10 C631.32 310.87 632.15 312.27 633.30 313.20 C634.45 314.13 635.62 315.00 637.00 315.70 C638.38 316.40 640.15 316.70 641.60 317.40 C643.05 318.10 644.32 318.93 645.70 319.90 C647.08 320.87 648.50 322.17 649.90 323.20 C651.30 324.23 652.53 325.27 654.10 326.10 C655.67 326.93 657.58 327.75 659.30 328.20 C661.02 328.65 662.68 328.45 664.40 328.80 C666.12 329.15 667.87 329.72 669.60 330.30 C671.33 330.88 673.93 331.97 674.80 332.30" fill="none" stroke="#1c1c8e" stroke-width="1.2" stroke-linejoin="round"/>
<path d="M472.5 208.0 H674.6 V357.5" fill="none" stroke="#151515" stroke-width="1.25"/>
<path d="M472.5 208.0 V357.5 H674.6" fill="none" stroke="#111" stroke-width="1.2"/>
<line x1="472.50" y1="357.5" x2="472.50" y2="360.5" stroke="#111" stroke-width="1"/>
<line x1="472.50" y1="208.0" x2="472.50" y2="209.2" stroke="#666" stroke-width="0.7"/>
<line x1="486.94" y1="357.5" x2="486.94" y2="359.1" stroke="#111" stroke-width="1"/>
<line x1="486.94" y1="208.0" x2="486.94" y2="209.2" stroke="#666" stroke-width="0.7"/>
<line x1="501.37" y1="357.5" x2="501.37" y2="360.5" stroke="#111" stroke-width="1"/>
<line x1="501.37" y1="208.0" x2="501.37" y2="209.2" stroke="#666" stroke-width="0.7"/>
<line x1="515.81" y1="357.5" x2="515.81" y2="359.1" stroke="#111" stroke-width="1"/>
<line x1="515.81" y1="208.0" x2="515.81" y2="209.2" stroke="#666" stroke-width="0.7"/>
<line x1="530.24" y1="357.5" x2="530.24" y2="360.5" stroke="#111" stroke-width="1"/>
<line x1="530.24" y1="208.0" x2="530.24" y2="209.2" stroke="#666" stroke-width="0.7"/>
<line x1="544.68" y1="357.5" x2="544.68" y2="359.1" stroke="#111" stroke-width="1"/>
<line x1="544.68" y1="208.0" x2="544.68" y2="209.2" stroke="#666" stroke-width="0.7"/>
<line x1="559.11" y1="357.5" x2="559.11" y2="360.5" stroke="#111" stroke-width="1"/>
<line x1="559.11" y1="208.0" x2="559.11" y2="209.2" stroke="#666" stroke-width="0.7"/>
<line x1="573.55" y1="357.5" x2="573.55" y2="359.1" stroke="#111" stroke-width="1"/>
<line x1="573.55" y1="208.0" x2="573.55" y2="209.2" stroke="#666" stroke-width="0.7"/>
<line x1="587.99" y1="357.5" x2="587.99" y2="360.5" stroke="#111" stroke-width="1"/>
<line x1="587.99" y1="208.0" x2="587.99" y2="209.2" stroke="#666" stroke-width="0.7"/>
<line x1="602.42" y1="357.5" x2="602.42" y2="359.1" stroke="#111" stroke-width="1"/>
<line x1="602.42" y1="208.0" x2="602.42" y2="209.2" stroke="#666" stroke-width="0.7"/>
<line x1="616.86" y1="357.5" x2="616.86" y2="360.5" stroke="#111" stroke-width="1"/>
<line x1="616.86" y1="208.0" x2="616.86" y2="209.2" stroke="#666" stroke-width="0.7"/>
<line x1="631.29" y1="357.5" x2="631.29" y2="359.1" stroke="#111" stroke-width="1"/>
<line x1="631.29" y1="208.0" x2="631.29" y2="209.2" stroke="#666" stroke-width="0.7"/>
<line x1="645.73" y1="357.5" x2="645.73" y2="360.5" stroke="#111" stroke-width="1"/>
<line x1="645.73" y1="208.0" x2="645.73" y2="209.2" stroke="#666" stroke-width="0.7"/>
<line x1="660.16" y1="357.5" x2="660.16" y2="359.1" stroke="#111" stroke-width="1"/>
<line x1="660.16" y1="208.0" x2="660.16" y2="209.2" stroke="#666" stroke-width="0.7"/>
<line x1="674.60" y1="357.5" x2="674.60" y2="360.5" stroke="#111" stroke-width="1"/>
<line x1="674.60" y1="208.0" x2="674.60" y2="209.2" stroke="#666" stroke-width="0.7"/>
<text x="462.42" y="369.50" textLength="19.83" lengthAdjust="spacingAndGlyphs" style="font-size:9.90px">1350</text>
<text x="491.29" y="369.50" textLength="19.83" lengthAdjust="spacingAndGlyphs" style="font-size:9.90px">1300</text>
<text x="520.16" y="369.50" textLength="19.83" lengthAdjust="spacingAndGlyphs" style="font-size:9.90px">1250</text>
<text x="549.04" y="369.50" textLength="19.83" lengthAdjust="spacingAndGlyphs" style="font-size:9.90px">1200</text>
<text x="577.91" y="369.50" textLength="19.83" lengthAdjust="spacingAndGlyphs" style="font-size:9.90px">1150</text>
<text x="606.78" y="369.50" textLength="19.83" lengthAdjust="spacingAndGlyphs" style="font-size:9.90px">1100</text>
<text x="635.65" y="369.50" textLength="19.83" lengthAdjust="spacingAndGlyphs" style="font-size:9.90px">1050</text>
<text x="664.52" y="369.50" textLength="19.83" lengthAdjust="spacingAndGlyphs" style="font-size:9.90px">1000</text>
<text x="526.16" y="383.00" textLength="76.89" lengthAdjust="spacingAndGlyphs" style="font-size:10.50px">Wavenumber (cm</text>
<text x="603.30" y="378.70" textLength="6.03" lengthAdjust="spacingAndGlyphs" style="font-size:6.50px">-1</text>
<text x="609.54" y="383.00" textLength="3.27" lengthAdjust="spacingAndGlyphs" style="font-size:10.50px">)</text>
<text transform="translate(466.10 0) rotate(-90)" x="-324.71" y="0" textLength="79.02" lengthAdjust="spacingAndGlyphs" style="font-size:10.30px">IR amp (arb.units)</text>
<line x1="630.7" y1="216.6" x2="648.9" y2="216.6" stroke="#1c1c8e" stroke-width="1.4"/>
<line x1="630.7" y1="227.0" x2="648.9" y2="227.0" stroke="#ff1a1a" stroke-width="1.4"/>
<text x="650.30" y="219.80" textLength="22.38" lengthAdjust="spacingAndGlyphs" style="font-size:9.60px">Site 3</text>
<text x="650.29" y="229.90" textLength="22.87" lengthAdjust="spacingAndGlyphs" style="font-size:9.60px">Site 4</text>
<text x="626.80" y="243.40" textLength="45.85" lengthAdjust="spacingAndGlyphs" style="font-size:9.70px">Terpolymer</text>
<text x="459.42" y="217.50" textLength="5.55" lengthAdjust="spacingAndGlyphs" style="font-size:14.50px;font-weight:bold">f</text>
</svg>
</body></html>
